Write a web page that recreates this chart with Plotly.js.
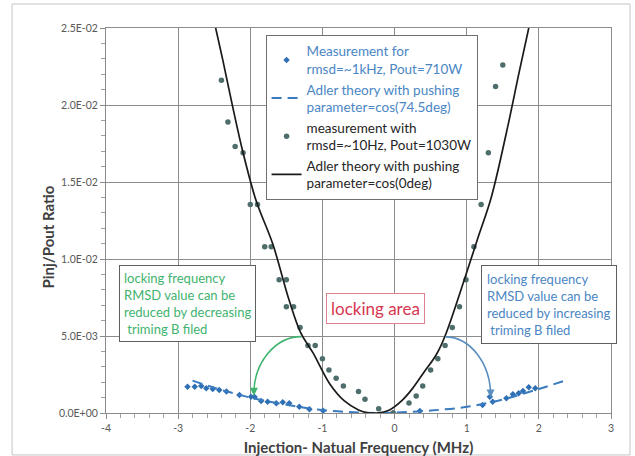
<!DOCTYPE html>
<html>
<head>
<meta charset="utf-8">
<script src="https://cdn.plot.ly/plotly-3.0.1.min.js"></script>
<style>
  html, body { margin: 0; padding: 0; background: #ffffff; }
  #chart { width: 635px; height: 456px; }
</style>
</head>
<body>
<div id="chart"></div>
<script>
// ---- Data ----
// Measurement for rmsd=~1kHz, Pout=710W (blue diamonds)
const measBlueX = [-2.87, -2.77, -2.68, -2.61, -2.52, -2.43, -2.33, -2.15, -1.99, -1.94, -1.85, -1.76, -1.64, -1.55, -1.46, -1.32, -1.18, -0.99, -0.02, 0.35, 1.22, 1.32, 1.36, 1.55, 1.64, 1.72, 1.78, 1.86, 1.95];
const measBlueY = [0.00171, 0.00171, 0.00176, 0.00160, 0.00156, 0.00150, 0.00139, 0.00117, 0.00106, 0.00104, 0.00078, 0.00073, 0.00063, 0.00070, 0.00063, 0.00041, 0.00024, 0.00015, 0.00000, 0.00013, 0.00052, 0.00106, 0.00073, 0.00095, 0.00121, 0.00128, 0.00143, 0.00167, 0.00160];

// Adler theory with pushing parameter=cos(74.5deg) (blue dashed)
const adlerPushX = [-2.80, -2.50, -2.00, -1.50, -1.00, -0.50, -0.22, 0.00, 0.50, 1.00, 1.50, 2.00, 2.36];
const adlerPushY = [0.00210, 0.00164, 0.00100, 0.00054, 0.00019, 0.00003, 0.00000, 0.00002, 0.00016, 0.00040, 0.00088, 0.00156, 0.00210];

// measurement with rmsd=~10Hz, Pout=1030W (grey circles)
const measGreyX = [-2.40, -2.31, -2.21, -2.10, -2.00, -1.90, -1.80, -1.71, -1.60, -1.50, -1.50, -1.40, -1.31, -1.20, -1.10, -1.00, -0.91, -0.81, -0.71, -0.50, -0.41, -0.22, -0.02, 0.20, 0.30, 0.39, 0.50, 0.60, 0.70, 0.80, 0.90, 0.99, 1.10, 1.20, 1.30, 1.40, 1.50];
const measGreyY = [0.0216, 0.0189, 0.0173, 0.0169, 0.01354, 0.01354, 0.0108, 0.0108, 0.00865, 0.00865, 0.0069, 0.0069, 0.00555, 0.00438, 0.00438, 0.00353, 0.0028, 0.00226, 0.00176, 0.00139, 0.00089, 0.00028, 0.0000, 0.00065, 0.0011, 0.00176, 0.0028, 0.00353, 0.00438, 0.00555, 0.0069, 0.00865, 0.0108, 0.01354, 0.0169, 0.0212, 0.0226];

// Adler theory with pushing parameter=cos(0deg) (black solid)
const adlerZeroX = [-2.48, -2.38, -2.24, -2.10, -1.92, -1.69, -1.46, -1.30, -1.13, -0.90, -0.70, -0.50, -0.39, -0.25, -0.07, 0.10, 0.25, 0.40, 0.58, 0.70, 0.97, 1.15, 1.34, 1.55, 1.73, 1.86];
const adlerZeroY = [0.0250, 0.0229, 0.0198, 0.0169, 0.0138, 0.0110, 0.0073, 0.0052, 0.0039, 0.0019, 0.0008, 0.0002, 0.00003, 0.0000, 0.0002, 0.0008, 0.0016, 0.0026, 0.0038, 0.0050, 0.0087, 0.0113, 0.0140, 0.0182, 0.0222, 0.0250];

// Axis ticks
const xTickVals = [-4, -3, -2, -1, 0, 1, 2, 3];
const xTickText = ['-4', '-3', '-2', '-1', '0', '1', '2', '3'];
const yTickVals = [0, 0.005, 0.010, 0.015, 0.020, 0.025];
const yTickText = ['0.0E+00', '5.0E-03', '1.0E-02', '1.5E-02', '2.0E-02', '2.5E-02'];

// Texts
const legendNames = [
  ['Measurement for', 'rmsd=~1kHz, Pout=710W'],
  ['Adler theory with pushing', 'parameter=cos(74.5deg)'],
  ['measurement with', 'rmsd=~10Hz, Pout=1030W'],
  ['Adler theory with pushing', 'parameter=cos(0deg)']
];
const leftNote = ['locking frequency', 'RMSD value can be', 'reduced by decreasing', '\u00a0triming B filed'];
const rightNote = ['locking frequency', 'RMSD value can be', 'reduced by increasing', '\u00a0triming B filed'];
const centerNote = 'locking area';
const xTitle = 'Injection- Natual Frequency (MHz)';
const yTitle = 'Pinj/Pout Ratio';

// ---- Styles ----
const FONT = 'Lato, "Open Sans", sans-serif';
const BLUE = '#3a7bbf';
const BLUE_TXT = '#4a86c4';
const GREY_PT = '#4e6e6c';
const GREEN = '#3fb36e';
const GRID = '#8c8c8c';

function colored(lines, color) {
  return lines.map(l => '<span style="color:' + color + '">' + l + '</span>').join('<br>');
}

const traces = [
  {
    x: measBlueX, y: measBlueY, type: 'scatter', mode: 'markers',
    name: colored(legendNames[0], BLUE_TXT),
    marker: { symbol: 'diamond', size: 5, color: '#2f6fb3' }
  },
  {
    x: adlerPushX, y: adlerPushY, type: 'scatter', mode: 'lines',
    name: colored(legendNames[1], BLUE_TXT),
    line: { color: BLUE, width: 2, dash: '10px,6px', shape: 'spline', smoothing: 1 }
  },
  {
    x: measGreyX, y: measGreyY, type: 'scatter', mode: 'markers',
    name: legendNames[2].join('<br>'),
    marker: { symbol: 'circle', size: 5.5, color: GREY_PT }
  },
  {
    x: adlerZeroX, y: adlerZeroY, type: 'scatter', mode: 'lines',
    name: legendNames[3].join('<br>'),
    line: { color: '#1a1a1a', width: 1.7, shape: 'spline', smoothing: 1 }
  }
];

const layout = {
  width: 635, height: 456,
  margin: { l: 106, r: 24, t: 28, b: 43 },
  paper_bgcolor: '#ffffff', plot_bgcolor: '#ffffff',
  font: { family: FONT, color: '#404040' },
  showlegend: true,
  legend: {
    x: 0.316, y: 0.982, xanchor: 'left', yanchor: 'top',
    bgcolor: '#ffffff', bordercolor: '#6f6f6f', borderwidth: 1,
    font: { family: FONT, size: 13.5, color: '#262626' },
    tracegroupgap: 0, itemwidth: 30
  },
  xaxis: {
    range: [-4, 3], tickmode: 'array', tickvals: xTickVals, ticktext: xTickText,
    showgrid: true, gridcolor: GRID, gridwidth: 1, zeroline: false,
    showline: true, linecolor: GRID, linewidth: 1, mirror: true,
    ticks: 'outside', ticklen: 5, tickcolor: GRID,
    minor: { dtick: 0.2, ticks: 'outside', ticklen: 4, tickcolor: '#a0a0a0', showgrid: false },
    tickfont: { family: FONT, size: 10.5, color: '#595959' },
    title: { text: '<b>' + xTitle + '</b>', font: { family: FONT, size: 15, color: '#404040' }, standoff: 10 }
  },
  yaxis: {
    range: [0, 0.025], tickmode: 'array', tickvals: yTickVals, ticktext: yTickText,
    showgrid: true, gridcolor: GRID, gridwidth: 1, zeroline: false,
    showline: true, linecolor: GRID, linewidth: 1, mirror: true,
    ticks: 'outside', ticklen: 5, tickcolor: GRID,
    minor: { dtick: 0.001, ticks: 'outside', ticklen: 4, tickcolor: '#a0a0a0', showgrid: false },
    tickfont: { family: FONT, size: 10.5, color: '#595959' }
  },
  shapes: [
    { type: 'rect', xref: 'paper', yref: 'paper', x0: -0.186, x1: 1.0376, y0: -0.109, y1: 1.0623,
      line: { color: '#c4c4c4', width: 1 }, layer: 'below' },
    { type: 'path', xref: 'x', yref: 'y',
      path: 'M -1.293,0.00496 C -1.656,0.00496 -1.95,0.00326 -1.95,0.00125',
      line: { color: GREEN, width: 1.6 } },
    { type: 'path', xref: 'x', yref: 'y',
      path: 'M 0.703,0.00494 C 1.050,0.00494 1.331,0.0032 1.331,0.00114',
      line: { color: '#5a8fbf', width: 1.6 } }
  ],
  annotations: [
    { xref: 'paper', yref: 'paper', x: -0.115, y: 0.458, xanchor: 'center', yanchor: 'middle',
      text: '<b>' + yTitle + '</b>', textangle: -90, showarrow: false,
      font: { family: FONT, size: 15, color: '#404040' } },
    { xref: 'paper', yref: 'paper', x: 0.1614, y: 0.2844, xanchor: 'center', yanchor: 'middle',
      text: leftNote.join('<br>'), align: 'left', showarrow: false,
      font: { family: FONT, size: 13, color: GREEN },
      bgcolor: '#ffffff', bordercolor: '#5f5f5f', borderwidth: 1, borderpad: 4 },
    { xref: 'paper', yref: 'paper', x: 0.878, y: 0.283, xanchor: 'center', yanchor: 'middle',
      text: rightNote.join('<br>'), align: 'left', showarrow: false,
      font: { family: FONT, size: 13, color: BLUE_TXT },
      bgcolor: '#ffffff', bordercolor: '#5f5f5f', borderwidth: 1, borderpad: 5 },
    { xref: 'paper', yref: 'paper', x: 0.5337, y: 0.2714, xanchor: 'center', yanchor: 'middle',
      text: centerNote, showarrow: false,
      font: { family: FONT, size: 17, color: '#d6374f' },
      bgcolor: '#ffffff', bordercolor: '#e0808e', borderwidth: 1, borderpad: 4 },
    { xref: 'x', yref: 'y', x: -1.95, y: 0.00112, text: '', showarrow: true,
      ax: 0, ay: -9, arrowhead: 2, arrowsize: 1, arrowwidth: 1.6, arrowcolor: GREEN },
    { xref: 'x', yref: 'y', x: 1.331, y: 0.00100, text: '', showarrow: true,
      ax: 0, ay: -9, arrowhead: 2, arrowsize: 1, arrowwidth: 1.6, arrowcolor: '#5a8fbf' }
  ]
};

Plotly.newPlot('chart', traces, layout, { displayModeBar: false, staticPlot: true });
</script>
</body>
</html>
